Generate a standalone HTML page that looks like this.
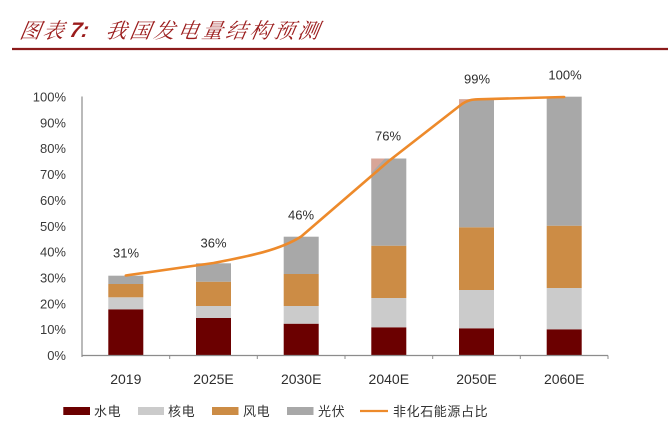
<!DOCTYPE html>
<html>
<head>
<meta charset="utf-8">
<style>
  html,body{margin:0;padding:0;background:#fff;}
  body{width:670px;height:432px;overflow:hidden;position:relative;}
  svg{position:absolute;left:0;top:0;}
  .title{position:absolute;top:17px;font-family:"Liberation Serif","Noto Serif CJK SC",serif;font-style:italic;color:#9b1c1c;font-size:21px;line-height:28px;white-space:nowrap;transform:skewX(-10deg);}
</style>
</head>
<body>
<div class="title" style="left:20px;letter-spacing:2px;">图表</div>
<div class="title" style="left:70px;font-family:'Liberation Sans',sans-serif;font-weight:bold;">7:</div>
<div class="title" style="left:106px;letter-spacing:3px;">我国发电量结构预测</div>

<svg width="670" height="432" viewBox="0 0 670 432" xmlns="http://www.w3.org/2000/svg">
  <line x1="12" y1="49" x2="668" y2="49" stroke="#8b1a1a" stroke-width="2.2"/>

  <g font-family="Liberation Sans, sans-serif" font-size="13" fill="#3a3a3a" text-anchor="end">
    <text x="66" y="360">0%</text>
    <text x="66" y="334.2">10%</text>
    <text x="66" y="308.3">20%</text>
    <text x="66" y="282.5">30%</text>
    <text x="66" y="256.6">40%</text>
    <text x="66" y="230.8">50%</text>
    <text x="66" y="204.9">60%</text>
    <text x="66" y="179.1">70%</text>
    <text x="66" y="153.2">80%</text>
    <text x="66" y="127.4">90%</text>
    <text x="66" y="101.5">100%</text>
  </g>

  <rect x="108.3" y="309.3" width="35" height="45.7" fill="#6b0000"/>
  <rect x="108.3" y="297.3" width="35" height="12" fill="#cbcbcb"/>
  <rect x="108.3" y="284" width="35" height="13.3" fill="#cc8c45"/>
  <rect x="108.3" y="275.7" width="35" height="8.3" fill="#a8a8a8"/>

  <rect x="196" y="318" width="35" height="37" fill="#6b0000"/>
  <rect x="196" y="306" width="35" height="12" fill="#cbcbcb"/>
  <rect x="196" y="281.7" width="35" height="24.3" fill="#cc8c45"/>
  <rect x="196" y="263.3" width="35" height="18.4" fill="#a8a8a8"/>

  <rect x="283.7" y="323.7" width="35" height="31.3" fill="#6b0000"/>
  <rect x="283.7" y="306" width="35" height="17.7" fill="#cbcbcb"/>
  <rect x="283.7" y="274" width="35" height="32" fill="#cc8c45"/>
  <rect x="283.7" y="236.7" width="35" height="37.3" fill="#a8a8a8"/>

  <rect x="371.3" y="327.3" width="35" height="27.7" fill="#6b0000"/>
  <rect x="371.3" y="298" width="35" height="29.3" fill="#cbcbcb"/>
  <rect x="371.3" y="245.7" width="35" height="52.3" fill="#cc8c45"/>
  <rect x="371.3" y="158.5" width="35" height="87.2" fill="#a8a8a8"/>
  <polygon points="371.3,158.5 385,158.5 371.3,173" fill="#d8a597"/>

  <rect x="459" y="328.3" width="35" height="26.7" fill="#6b0000"/>
  <rect x="459" y="290" width="35" height="38.3" fill="#cbcbcb"/>
  <rect x="459" y="227.3" width="35" height="62.7" fill="#cc8c45"/>
  <rect x="459" y="99.3" width="35" height="128" fill="#a8a8a8"/>
  <polygon points="459,99.3 472,99.3 459,106" fill="#d8a597"/>

  <rect x="546.7" y="329.3" width="35" height="25.7" fill="#6b0000"/>
  <rect x="546.7" y="288" width="35" height="41.3" fill="#cbcbcb"/>
  <rect x="546.7" y="225.7" width="35" height="62.3" fill="#cc8c45"/>
  <rect x="546.7" y="96.7" width="35" height="129" fill="#a8a8a8"/>

  <line x1="82" y1="96.5" x2="82" y2="357" stroke="#8c8c8c" stroke-width="1.2"/>
  <line x1="82" y1="355.5" x2="608" y2="355.5" stroke="#8c8c8c" stroke-width="1.2"/>
  <g stroke="#8c8c8c" stroke-width="1">
    <line x1="169.7" y1="355.5" x2="169.7" y2="359"/>
    <line x1="257.3" y1="355.5" x2="257.3" y2="359"/>
    <line x1="345" y1="355.5" x2="345" y2="359"/>
    <line x1="432.7" y1="355.5" x2="432.7" y2="359"/>
    <line x1="520.3" y1="355.5" x2="520.3" y2="359"/>
    <line x1="608" y1="355.5" x2="608" y2="359"/>
  </g>

  <path d="M125.8,275.5 L213.5,263 C250,256 280,250 301.2,236.5 L388.8,161 L462,104 C468,100 472,99.5 478,99.3 L564.2,97" fill="none" stroke="#ed8a2b" stroke-width="2.6" stroke-linejoin="round" stroke-linecap="round"/>

  <g font-family="Liberation Sans, sans-serif" font-size="13" fill="#2e2e2e" text-anchor="middle">
    <text x="126" y="257.5">31%</text>
    <text x="213.5" y="247.5">36%</text>
    <text x="301" y="219.5">46%</text>
    <text x="388" y="140.5">76%</text>
    <text x="477" y="83.5">99%</text>
    <text x="565" y="79.5">100%</text>
  </g>

  <g font-family="Liberation Sans, sans-serif" font-size="14" fill="#2e2e2e" text-anchor="middle">
    <text x="125.8" y="384">2019</text>
    <text x="213.5" y="384">2025E</text>
    <text x="301.2" y="384">2030E</text>
    <text x="388.8" y="384">2040E</text>
    <text x="476.5" y="384">2050E</text>
    <text x="564.2" y="384">2060E</text>
  </g>

  <rect x="63.3" y="407" width="26.7" height="8" fill="#6b0000"/>
  <rect x="138" y="407" width="26" height="8" fill="#cbcbcb"/>
  <rect x="212" y="407" width="26.5" height="8" fill="#cc8c45"/>
  <rect x="287" y="407" width="26.5" height="8" fill="#a8a8a8"/>
  <line x1="360" y1="411" x2="388" y2="411" stroke="#ed8a2b" stroke-width="2.2"/>
  <g font-family="Liberation Sans, Noto Sans CJK SC, sans-serif" font-size="13" fill="#333" letter-spacing="0.6">
    <text x="94" y="416">水电</text>
    <text x="168" y="416">核电</text>
    <text x="243" y="416">风电</text>
    <text x="318" y="416">光伏</text>
    <text x="393" y="416">非化石能源占比</text>
  </g>
</svg>
</body>
</html>
